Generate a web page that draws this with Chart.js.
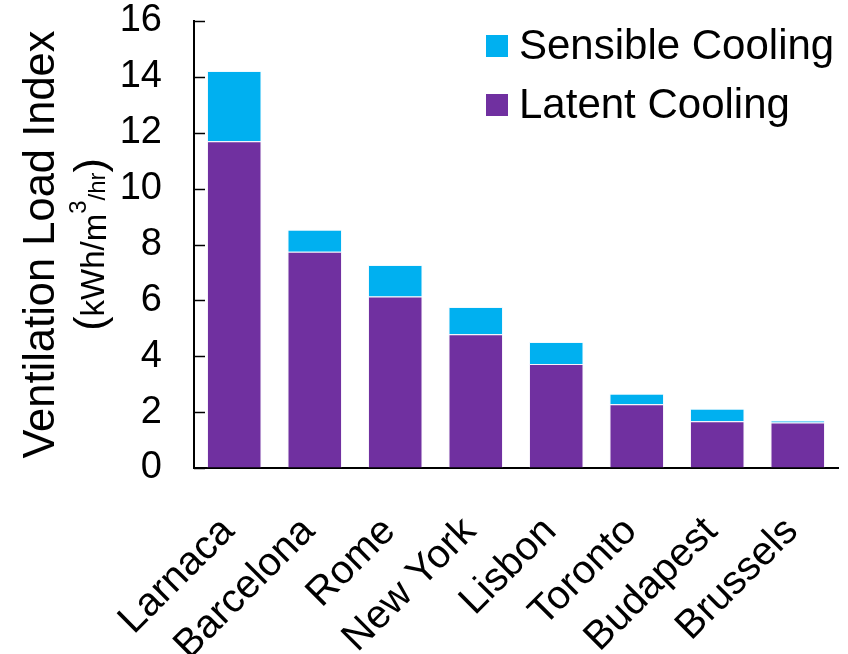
<!DOCTYPE html>
<html><head><meta charset="utf-8">
<script src="https://cdn.jsdelivr.net/npm/chart.js@4.4.1/dist/chart.umd.min.js"></script>
<style>html,body{margin:0;padding:0;background:#fff;} #wrap{width:848px;height:654px;}</style>
</head><body><div id="wrap"><canvas id="c" width="848" height="654"></canvas></div>
<script>
const categories = ['Larnaca','Barcelona','Rome','New York','Lisbon','Toronto','Budapest','Brussels'];
const latentCooling = [11.70, 7.74, 6.14, 4.79, 3.72, 2.28, 1.67, 1.63];
const sensibleCooling = [2.51, 0.79, 1.13, 0.97, 0.79, 0.38, 0.45, 0.07];
const yTickValues = [0, 2, 4, 6, 8, 10, 12, 14, 16];
const latentName = 'Latent Cooling';
const sensibleName = 'Sensible Cooling';
const yTitle = 'Ventilation Load Index';

const FAMILY = '"Liberation Sans", Arial, Helvetica, sans-serif';
Chart.defaults.font.family = FAMILY;
Chart.defaults.color = '#000';

const insideTicks = {
  id: 'insideTicks',
  afterDraw(chart) {
    const ctx = chart.ctx, ys = chart.scales.y, ca = chart.chartArea;
    ctx.save();
    ctx.strokeStyle = '#000'; ctx.lineWidth = 1.5;
    ys.ticks.forEach(t => {
      const py = Math.round(ys.getPixelForValue(t.value)) + 0.5;
      ctx.beginPath(); ctx.moveTo(ca.left, py); ctx.lineTo(ca.left + 11, py); ctx.stroke();
    });
    ctx.restore();
  }
};

const customLegend = {
  id: 'customLegend',
  afterDraw(chart) {
    const ctx = chart.ctx;
    const items = [chart.data.datasets[1], chart.data.datasets[0]];
    ctx.save();
    ctx.font = '42px ' + FAMILY;
    ctx.textBaseline = 'middle';
    ctx.textAlign = 'left';
    items.forEach((ds, i) => {
      const cy = 46 + i * 59;
      ctx.fillStyle = ds.backgroundColor;
      ctx.fillRect(486, cy - 11, 22, 22);
      ctx.fillStyle = '#000';
      ctx.fillText(ds.label, 519, cy + 1);
    });
    ctx.restore();
  }
};

const yTitlePlugin = {
  id: 'yTitlePlugin',
  afterDraw(chart) {
    const ctx = chart.ctx, ca = chart.chartArea;
    const cy = (ca.top + ca.bottom) / 2;
    ctx.save();
    ctx.fillStyle = '#000';
    ctx.textBaseline = 'alphabetic';
    ctx.save();
    ctx.translate(54, cy);
    ctx.rotate(-Math.PI / 2);
    ctx.font = '43.5px ' + FAMILY;
    ctx.textAlign = 'center';
    ctx.fillText(yTitle, 0, 0);
    ctx.restore();
    const pieces = [
      {t: '(', s: 43, dy: 0},
      {t: 'kWh/', s: 33, dy: 0},
      {t: 'm', s: 33, dy: 2},
      {t: '3', s: 24, dy: -18},
      {t: '/hr', s: 24, dy: 1},
      {t: ')', s: 43, dy: 0}
    ];
    let total = 0;
    pieces.forEach(p => { ctx.font = p.s + 'px ' + FAMILY; p.w = ctx.measureText(p.t).width; total += p.w; });
    ctx.translate(104, cy);
    ctx.rotate(-Math.PI / 2);
    ctx.textAlign = 'left';
    let x = -total / 2;
    pieces.forEach(p => { ctx.font = p.s + 'px ' + FAMILY; ctx.fillText(p.t, x, p.dy); x += p.w; });
    ctx.restore();
  }
};

new Chart(document.getElementById('c'), {
  type: 'bar',
  data: {
    labels: categories,
    datasets: [
      {label: latentName, data: latentCooling, backgroundColor: '#7030A0', borderColor: 'rgba(235,225,245,0.45)', borderWidth: 1, barPercentage: 0.677, categoryPercentage: 1},
      {label: sensibleName, data: sensibleCooling, backgroundColor: '#00B0F0', borderColor: 'rgba(220,245,255,0.45)', borderWidth: 1, barPercentage: 0.677, categoryPercentage: 1}
    ]
  },
  options: {
    responsive: false,
    animation: false,
    layout: {padding: {top: 21, right: 10, left: 0, bottom: 0}},
    plugins: {legend: {display: false}, tooltip: {enabled: false}},
    scales: {
      x: {
        stacked: true,
        afterFit: s => { s.height = 186; s.paddingLeft = 0; s.paddingRight = 0; },
        grid: {display: true, drawOnChartArea: false, drawTicks: false},
        border: {display: true, color: '#000', width: 2},
        ticks: {font: {size: 40}, color: '#000', maxRotation: 45, minRotation: 45, padding: 40, labelOffset: -6, autoSkip: false}
      },
      y: {
        stacked: true, min: 0, max: 16,
        afterBuildTicks: s => { s.ticks = yTickValues.map(v => ({value: v})); },
        afterFit: s => { s.width = 194; s.paddingTop = 0; s.paddingBottom = 0; },
        grid: {display: true, drawOnChartArea: false, drawTicks: false},
        border: {display: true, color: '#000', width: 2},
        ticks: {font: {size: 38}, color: '#000', padding: 32}
      }
    }
  },
  plugins: [insideTicks, customLegend, yTitlePlugin]
});
</script></body></html>
